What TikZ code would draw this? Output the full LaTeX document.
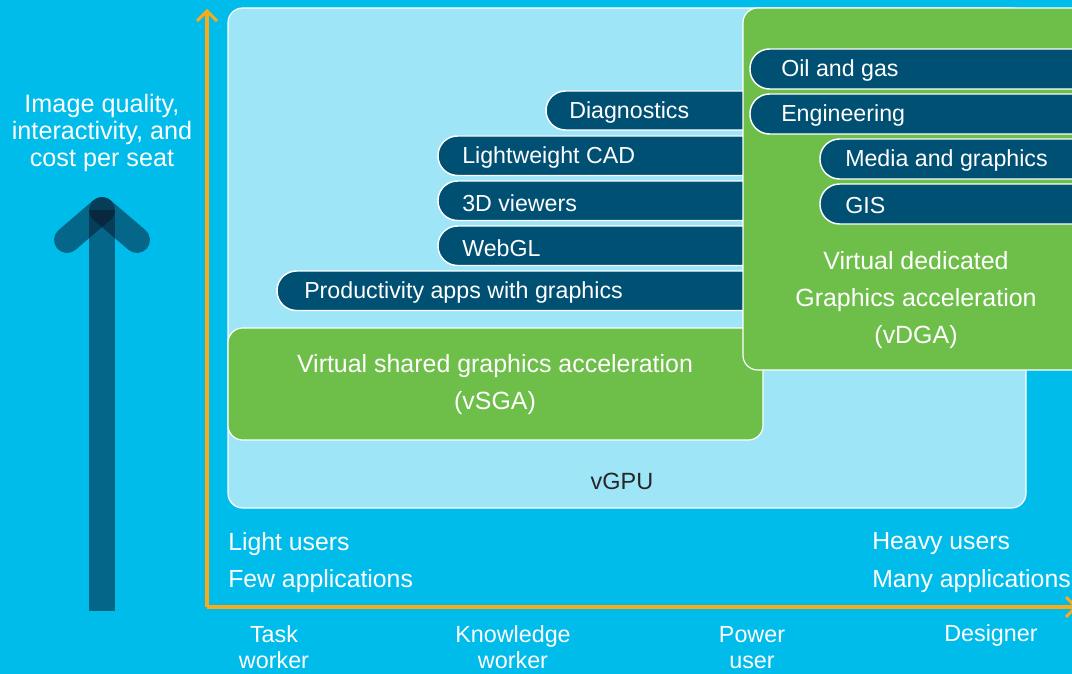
\documentclass[tikz,border=0pt]{standalone}
\usepackage{fontspec}
\setmainfont{Liberation Sans}
\definecolor{bgcyan}{RGB}{0,188,235}
\definecolor{lightcyan}{RGB}{158,229,248}
\definecolor{boxgreen}{RGB}{110,190,74}
\definecolor{pillblue}{RGB}{0,80,115}
\definecolor{axisorange}{RGB}{251,171,24}
\definecolor{arrowdark}{RGB}{8,20,40}
\begin{document}
\begin{tikzpicture}[x=0.75pt,y=-0.75pt,
  font=\fontsize{17.4}{20}\selectfont,
  lightbox/.style={fill=lightcyan, draw=white, line width=0.9pt, rounded corners=11pt},
  greenbox/.style={fill=boxgreen, draw=white, line width=0.9pt, rounded corners=11pt},
  pill/.style={fill=pillblue, draw=white, line width=1.1pt, rounded corners=14.6pt},
  pilltext/.style={text=white, anchor=west, inner sep=0pt, yshift=-1.5pt, font=\fontsize{17.4}{20}\selectfont},
  wtext/.style={text=white, inner sep=0pt, yshift=-1.5pt},
  bigtext/.style={font=\fontsize{18.7}{27.75}\selectfont},
  axisline/.style={draw=axisorange, line width=2.3pt},
  bigarrow/.style={draw=arrowdark, draw opacity=0.5, line width=19.5pt}]
\useasboundingbox (0,0) rectangle (1072,674);
\fill[bgcyan] (0,0) rectangle (1072,674);
\clip (0,0) rectangle (1072,674);

% vGPU area
\draw[lightbox] (228,8) rectangle (1026,508);
\node[inner sep=0pt, yshift=-1.5pt, text=black!85, font=\fontsize{17.6}{20}\selectfont] (vgpu) at (622,479) {vGPU};

% pills under vDGA
\draw[pill] (546,91) rectangle (800,130);
\node[pilltext] (diag) at (569,110.5) {Diagnostics};
\draw[pill] (438,136) rectangle (800,175.5);
\node[pilltext] (cad) at (462,155.5) {Lightweight CAD};
\draw[pill] (438,181) rectangle (800,220.5);
\node[pilltext] (view) at (462,201) {3D viewers};
\draw[pill] (438,226) rectangle (800,265.5);
\node[pilltext] (webgl) at (462,246) {WebGL};
\draw[pill] (277,271) rectangle (800,310.5);
\node[pilltext] (prod) at (304,291) {Productivity apps with graphics};

% vSGA box
\draw[greenbox] (228,328) rectangle (763,440);
\node[wtext, align=center, bigtext] (vsga) at (495,382.5) {Virtual shared graphics acceleration\\(vSGA)};

% vDGA box
\draw[greenbox] (743,8) rectangle (1090,370);
\draw[pill] (750,49) rectangle (1100,89);
\node[pilltext] (oil) at (781,69) {Oil and gas};
\draw[pill] (750,94) rectangle (1100,134);
\node[pilltext] (eng) at (781,114) {Engineering};
\draw[pill] (820,139) rectangle (1100,179);
\node[pilltext] (media) at (845,159) {Media and graphics};
\draw[pill] (820,184) rectangle (1100,224);
\node[pilltext] (gis) at (845,204) {GIS};
\node[wtext, align=center, bigtext] (vdga) at (916,298) {Virtual dedicated\\Graphics acceleration\\(vDGA)};

% axes
\coordinate (origin) at (207,607);
\coordinate (ytop) at (207,11);
\coordinate (xend) at (1076,607);
\draw[axisline] (origin) -- (ytop);
\draw[axisline, line join=miter] ([shift={(-10,10)}]ytop) -- (ytop) -- ([shift={(10,10)}]ytop);
\draw[axisline] (origin) -- (xend);
\draw[axisline, line join=miter] ([shift={(-10,-10)}]xend) -- (xend) -- ([shift={(-10,10)}]xend);

% user labels
\node[wtext, anchor=west, font=\fontsize{18.6}{20}\selectfont] (light) at (228,542) {Light users};
\node[wtext, anchor=west, font=\fontsize{18.6}{20}\selectfont] (few) at (228,579) {Few applications};
\node[wtext, anchor=west, font=\fontsize{18.6}{20}\selectfont] (heavy) at (872,542) {Heavy users};
\node[wtext, anchor=west, font=\fontsize{18.6}{20}\selectfont] (many) at (872,579) {Many applications};

% bottom categories
\node[wtext, align=center, font=\fontsize{17.5}{19.5}\selectfont] (task) at (274,645.5) {Task\\worker};
\node[wtext, align=center, font=\fontsize{17.5}{19.5}\selectfont] (know) at (513,645.5) {Knowledge\\worker};
\node[wtext, align=center, font=\fontsize{17.5}{19.5}\selectfont] (power) at (752,645.5) {Power\\user};
\node[wtext, font=\fontsize{17.5}{19.5}\selectfont] (designer) at (991,633.5) {Designer};

% left quality arrow
\node[wtext, align=center, font=\fontsize{18.9}{20.25}\selectfont] (quality) at (102,131) {Image quality,\\interactivity, and\\cost per seat};
\coordinate (abot) at (102,611);
\coordinate (atop) at (102,210);
\coordinate (aleft) at (67,240);
\coordinate (aright) at (137,240);
\draw[bigarrow, line cap=butt] (abot) -- (atop);
\draw[bigarrow, line cap=round] (atop) -- (aleft);
\draw[bigarrow, line cap=round] (atop) -- (aright);
\end{tikzpicture}
\end{document}
